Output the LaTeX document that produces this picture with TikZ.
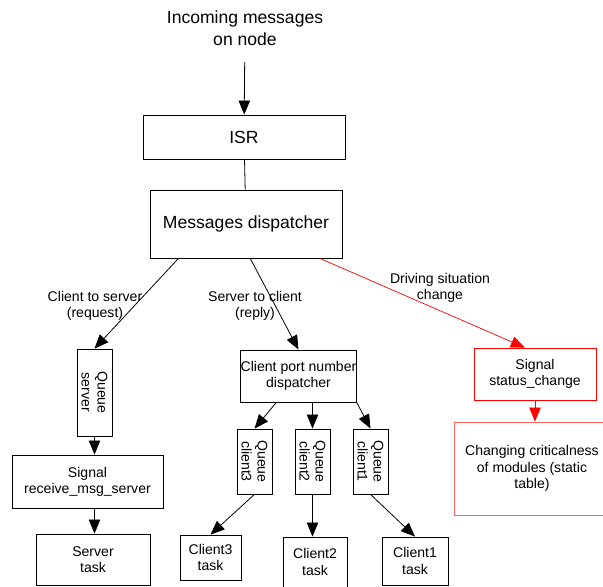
\documentclass[tikz,border=0pt]{standalone}
\usepackage{fontspec}
\setmainfont{Liberation Sans}
\usetikzlibrary{arrows.meta,positioning,calc}
\definecolor{msgred}{RGB}{255,0,0}
\definecolor{msgpink}{RGB}{255,96,96}

\begin{document}
\begin{tikzpicture}[
  x=0.02cm, y=-0.02cm,
  box/.style={rectangle, draw, line width=0.45pt, inner sep=0pt, align=center, font=\fontsize{8}{9.2}\selectfont},
  bigbox/.style={box, font=\fontsize{10}{12.5}\selectfont},
  queue/.style={box, rotate=-90, minimum height=0.7cm},
  redbox/.style={box, draw=msgred},
  arrow/.style={-{Triangle[length=8pt,width=6.5pt]}, line width=0.45pt},
  redarrow/.style={arrow, color=msgred, line width=0.4pt},
  edgetext/.style={align=center, font=\fontsize{8}{9.2}\selectfont}
]
\useasboundingbox (0,0) rectangle (603,587);
\clip (0,0) rectangle (603,587);

% Entry - ISR and dispatcher
\node[align=center, font=\fontsize{10}{12.5}\selectfont] (incoming) at (245,28) {Incoming messages\\on node};
\node[bigbox, minimum width=4.04cm, minimum height=0.88cm] (isr) at (244,137) {ISR};
\node[bigbox, minimum width=3.84cm, minimum height=1.36cm] (disp) at (246,224) {Messages dispatcher};

% Server branch (queues are turned: west is on top)
\node[queue, minimum width=1.74cm] (qserver) at (94.5,392.5) {Queue\\server};
\node[box, minimum width=3.02cm, minimum height=1.06cm] (sigserver) at (87.5,481.5) {Signal\\receive\_msg\_server};
\node[box, minimum width=2.28cm, minimum height=1.02cm] (servertask) at (93,559.5) {Server\\task};

% Client branch
\node[box, minimum width=1.98cm, minimum height=1.04cm] (portdisp) at (298.5,376) {Client port number\\dispatcher};
\node[queue, minimum width=1.3cm] (qclient3) at (254.5,461.5) {Queue\\client3};
\node[queue, minimum width=1.3cm] (qclient2) at (312.5,461.5) {Queue\\client2};
\node[queue, minimum width=1.3cm] (qclient1) at (370.5,461.5) {Queue\\client1};
\node[box, minimum width=1.22cm, minimum height=0.9cm] (task3) at (210.5,557.5) {Client3\\task};
\node[box, minimum width=1.28cm, minimum height=1cm] (task2) at (315,562) {Client2\\task};
\node[box, minimum width=1.32cm, minimum height=0.96cm] (task1) at (415,561) {Client1\\task};

% Status branch
\node[redbox, minimum width=2.44cm, minimum height=1.04cm] (sigstatus) at (535,374) {Signal\\status\_change};
\node[box, draw=msgpink, minimum width=3.1cm, minimum height=1.86cm] (critical) at (532,468.5) {Changing criticalness\\of modules (static\\table)};

% Arrows
\draw[arrow, shorten <=6pt] (incoming) -- (isr);
\draw[line width=0.45pt] (isr) -- (disp);
\draw[arrow] (disp.207) -- (qserver.west);
\draw[arrow] (disp.-83) -- (portdisp.north);
\draw[redarrow] (disp.-25) -- (sigstatus.111);
\draw[arrow] (qserver.east) -- (qserver.east |- sigserver.north);
\draw[arrow] (qserver.east |- sigserver.south) -- (qserver.east |- servertask.north);
\draw[arrow] (portdisp.230) -- (qclient3.west);
\draw[arrow] (portdisp.south -| qclient2) -- (qclient2.west);
\draw[arrow] (portdisp.south east) -- (qclient1.west);
\draw[arrow] (qclient3.east) -- (task3.north);
\draw[arrow] (qclient2.east) -- (qclient2.east |- task2.north);
\draw[arrow] (qclient1.east) -- (task1.north);
\draw[redarrow] (sigstatus.south) -- (sigstatus.south |- critical.north);

% Labels
\node[edgetext] (reqtext) at (95,306) {Client to server\\(request)};
\node[edgetext] (replytext) at (255,306) {Server to client\\(reply)};
\node[edgetext] (drivetext) at (440,288) {Driving situation\\change};

\end{tikzpicture}
\end{document}
